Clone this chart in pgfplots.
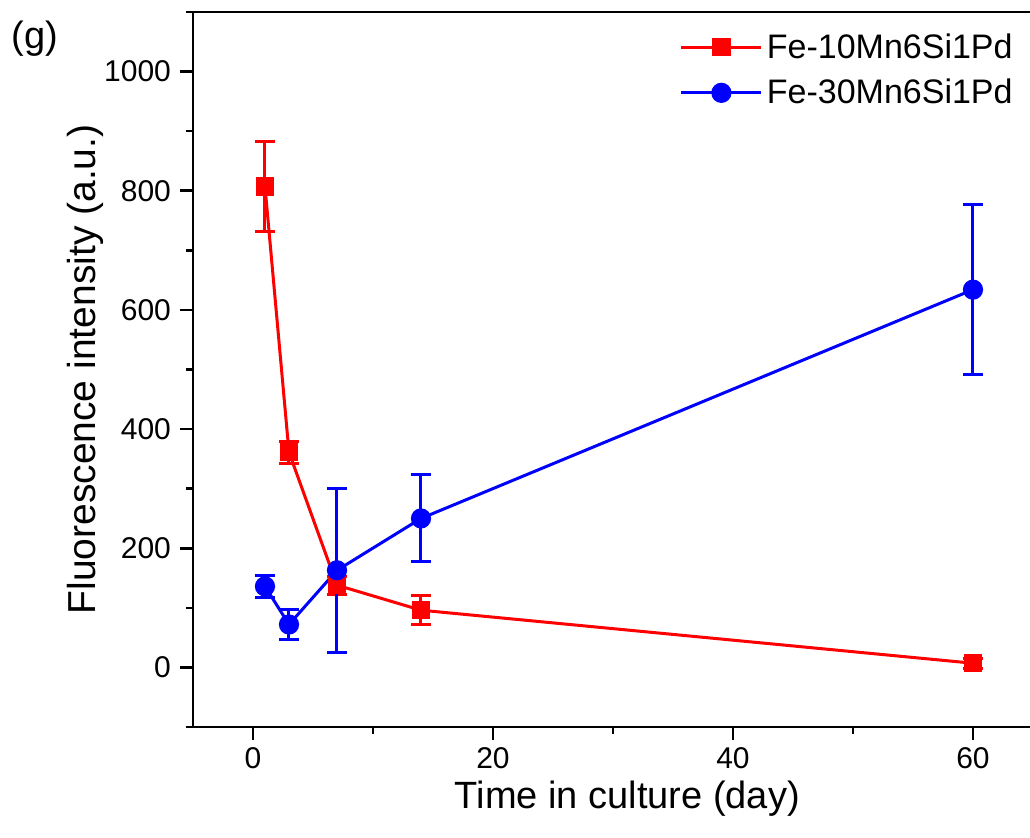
\documentclass[border=0pt]{standalone}
\usepackage{pgfplots}
\pgfplotsset{compat=1.18}
\usepackage{fontspec}
\setmainfont{Liberation Sans}
\begin{document}
\begin{tikzpicture}
\begin{axis}[
  name=ax,
  scale only axis,
  width=420pt, height=357.5pt,
  xmin=-5, xmax=65, ymin=-100, ymax=1100,
  xtick={0,20,40,60}, minor xtick={10,30,50},
  ytick={0,200,400,600,800,1000}, minor ytick={-100,100,300,500,700,900,1100},
  tick pos=left, tick align=outside,
  major tick length=6.5pt, minor tick length=3.5pt,
  every tick/.style={line width=1.3pt, black},
  axis line style={line width=1.4pt},
  /pgf/number format/assume math mode=true,
  /pgf/number format/1000 sep={},
  ticklabel style={font=\fontsize{15}{17}\selectfont},
  yticklabel style={xshift=-1pt},
  xlabel={Time in culture (day)},
  ylabel={Fluorescence intensity (a.u.)},
  xlabel style={font=\fontsize{19}{22}\selectfont, at={(axis description cs:0.517,-0.1)}, anchor=center},
  ylabel style={font=\fontsize{19.5}{22}\selectfont, at={(axis description cs:-0.128,0.5)}, anchor=center},
  legend style={draw=none, fill=none, at={(1,1)}, anchor=north east, xshift=-5pt, yshift=-6.5pt,
    font=\fontsize{17}{20}\selectfont, row sep=5pt, cells={anchor=west}},
  legend image code/.code={\draw[mark repeat=2,mark phase=2] plot coordinates {(0pt,0pt)(20pt,0pt)(40pt,0pt)};},
]
\addplot[red, line width=1.5pt, mark=square*, mark size=3.8pt, mark options={solid},
  error bars/.cd, y dir=both, y explicit,
  error bar style={line width=1.5pt, red},
  error mark options={rotate=90, mark size=5pt, line width=1.5pt, red}]
  coordinates {
  (1,807) +- (0,75)
  (3,361) +- (0,18)
  (7,138) +- (0,15)
  (14,96) +- (0,24)
  (60,7) +- (0,8)
};
\addlegendentry{Fe-10Mn6Si1Pd}
\addplot[blue, line width=1.5pt, mark=*, mark size=4.3pt, mark options={solid},
  error bars/.cd, y dir=both, y explicit,
  error bar style={line width=1.5pt, blue},
  error mark options={rotate=90, mark size=5pt, line width=1.5pt, blue}]
  coordinates {
  (1,136) +- (0,18)
  (3,72) +- (0,26)
  (7,163) +- (0,138)
  (14,250) +- (0,73)
  (60,634) +- (0,143)
};
\addlegendentry{Fe-30Mn6Si1Pd}
\end{axis}
\node[font=\fontsize{19}{22}\selectfont] at ([shift={(-79pt,-13.5pt)}]ax.north west) {(g)};
\pgfresetboundingbox
\path[use as bounding box] ([shift={(-96.5pt,-55.5pt)}]ax.south west) rectangle ([shift={(418.5pt,6pt)}]ax.north west);
\end{tikzpicture}
\end{document}
